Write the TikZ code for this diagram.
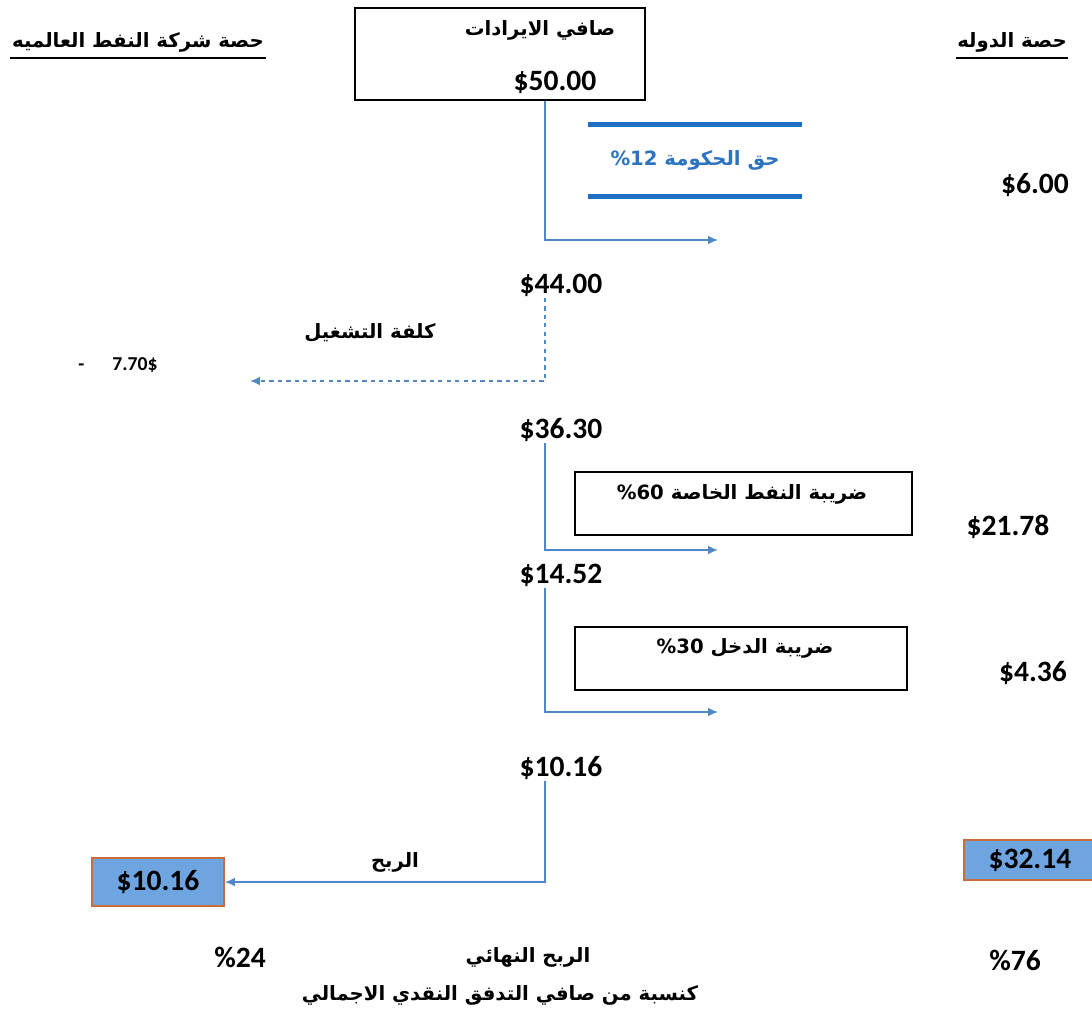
\documentclass[tikz,border=0pt]{standalone}
\usepackage{fontspec}
\setmainfont{Carlito}
\newfontfamily\arabicfont[Script=Arabic]{DejaVu Sans}
\newfontfamily\latinfont{DejaVu Sans}
\TeXXeTstate=1
\usetikzlibrary{arrows.meta}
\definecolor{flowblue}{RGB}{80,135,200}
\definecolor{barblue}{RGB}{30,110,195}
\definecolor{govblue}{RGB}{45,115,190}
\definecolor{cellblue}{RGB}{110,165,225}
\definecolor{cellrim}{RGB}{200,110,60}
\newcommand{\artxt}[1]{\beginR #1\endR}
\newcommand{\pct}[1]{\hbox{\latinfont\bfseries\%#1}}

\begin{document}
\begin{tikzpicture}[x=0.025cm, y=-0.025cm]
\tikzstyle{num} = [font=\fontsize{21}{23}\selectfont\bfseries, inner sep=1pt]
\tikzstyle{lbl} = [font=\fontsize{14}{17}\selectfont\arabicfont\bfseries, inner sep=1pt]
\tikzstyle{e} = [draw=flowblue, line width=0.9pt, -{Latex[length=7pt,width=6pt]}]
\tikzstyle{b} = [draw=black, line width=1.3pt]
\tikzstyle{bar} = [draw=barblue, line width=3.5pt]
\tikzstyle{cell} = [draw=cellrim, fill=cellblue, line width=1.3pt, font=\fontsize{21}{23}\selectfont\bfseries]

\useasboundingbox (0,0) rectangle (1092,1025);

\node[lbl] (hoil) at (138,42) {\artxt{حصة شركة النفط العالميه}};
\node[lbl] (hgov) at (1012,42) {\artxt{حصة الدوله}};
\draw[line width=1.2pt] ([yshift=-3pt]hoil.south west) -- ([yshift=-3pt]hoil.south east);
\draw[line width=1.2pt] ([yshift=-3pt]hgov.south west) -- ([yshift=-3pt]hgov.south east);

\node[b, minimum width=7.25cm, minimum height=2.3cm] (rev) at (500,54) {};
\node[lbl] (revt) at (540,30) {\artxt{صافي الايرادات}};
\node[num] (r50) at (555,82) {\$50.00};

\coordinate (trunk) at (545,0);
\node[minimum width=5.35cm, minimum height=1.775cm, inner sep=0pt, text=govblue,
      font=\fontsize{14}{17}\selectfont\arabicfont\bfseries] (gov) at (695,160.5)
      {\artxt{حق الحكومة \pct{12}}};
\draw[bar] (gov.north west) -- (gov.north east);
\draw[bar] (gov.south west) -- (gov.south east);
\node[num] (g6) at (1035,185) {\$6.00};
\coordinate (t1) at (718,240);
\draw[e] (rev.south -| trunk) |- (t1);

\node[num] (v44) at (561,285) {\$44.00};
\node[lbl] (opc) at (370,333) {\artxt{كلفة التشغيل}};
\node[font=\fontsize{14}{16}\selectfont\bfseries] (c770) at (118,365) {-\hspace{20pt}7.70\$};
\coordinate (t2) at (250,381);
\draw[e, dashed] (v44.south -| trunk) |- (t2);

\node[num] (v36) at (561,430) {\$36.30};
\node[b, minimum width=8.425cm, minimum height=1.575cm] (spc) at (743.5,503.5) {};
\node[lbl] (spct) at (742,494) {\artxt{ضريبة النفط الخاصة \pct{60}}};
\node[num] (g21) at (1008,527) {\$21.78};
\coordinate (t3) at (718,550);
\draw[e] (v36.south -| trunk) |- (t3);

\node[num] (v14) at (561,575) {\$14.52};
\node[b, minimum width=8.3cm, minimum height=1.575cm] (inc) at (741,658.5) {};
\node[lbl] (inct) at (745,648) {\artxt{ضريبة الدخل \pct{30}}};
\node[num] (g4) at (1033,673) {\$4.36};
\coordinate (t4) at (718,712);
\draw[e] (v14.south -| trunk) |- (t4);

\node[num] (v10) at (561,768) {\$10.16};
\node[lbl] (prf) at (395,862) {\artxt{الربح}};
\node[cell, minimum width=3.3cm, minimum height=1.2cm] (oilsh) at (158,882) {\$10.16};
\node[cell, minimum width=3.3cm, minimum height=1.0cm, anchor=west] (govsh) at (963,860) {\$32.14};
\draw[e] (v10.south -| trunk) |- (oilsh.east);

\node[num] (p24) at (240,957) {\%24};
\node[lbl] (fin) at (528,957) {\artxt{الربح النهائي}};
\node[num] (p76) at (1015,960) {\%76};
\node[lbl] (ratio) at (500,995) {\artxt{كنسبة من صافي التدفق النقدي الاجمالي}};
\end{tikzpicture}
\end{document}
